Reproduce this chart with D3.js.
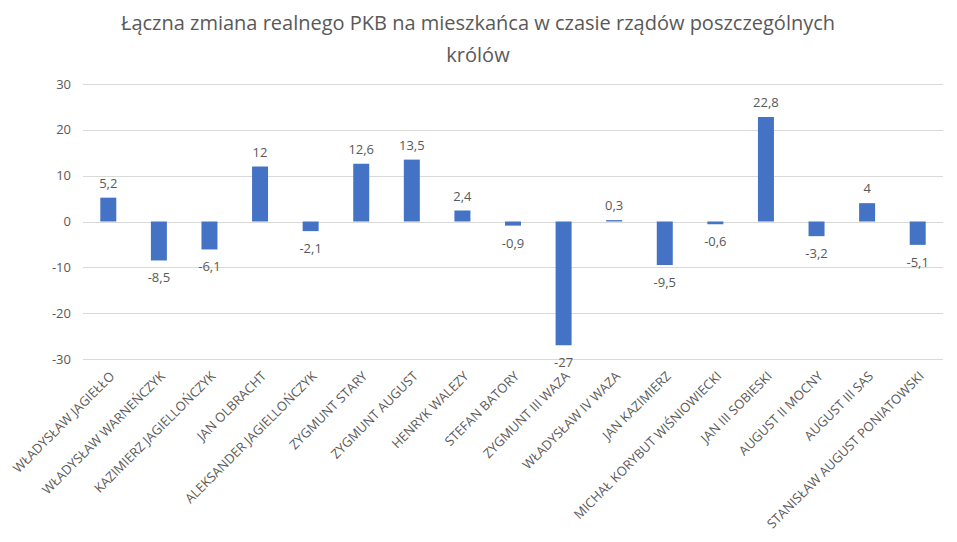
<!DOCTYPE html>
<html>
<head>
<meta charset="utf-8">
<script src="https://cdn.jsdelivr.net/npm/d3@7"></script>
<style>
  body { margin: 0; background: #fff; }
  svg text { font-family: "Segoe UI", "Open Sans", "Noto Sans", sans-serif; fill: #595959; }
</style>
</head>
<body>
<svg id="chart" width="957" height="542"></svg>
<script>
var kings = ["WŁADYSŁAW JAGIEŁŁO", "WŁADYSŁAW WARNEŃCZYK", "KAZIMIERZ JAGIELLOŃCZYK", "JAN OLBRACHT",
    "ALEKSANDER JAGIELLOŃCZYK", "ZYGMUNT STARY", "ZYGMUNT AUGUST", "HENRYK WALEZY", "STEFAN BATORY",
    "ZYGMUNT III WAZA", "WŁADYSŁAW IV WAZA", "JAN KAZIMIERZ", "MICHAŁ KORYBUT WIŚNIOWIECKI",
    "JAN III SOBIESKI", "AUGUST II MOCNY", "AUGUST III SAS", "STANISŁAW AUGUST PONIATOWSKI"];
var values = [5.2, -8.5, -6.1, 12, -2.1, 12.6, 13.5, 2.4, -0.9, -27, 0.3, -9.5, -0.6, 22.8, -3.2, 4, -5.1];
var yTicks = [-30, -20, -10, 0, 10, 20, 30];

var data = kings.map((k, i) => ({name: k, value: values[i]}));

var svg = d3.select("#chart");
var plotLeft = 83, plotRight = 943, plotTop = 84, plotBottom = 359;

var xScale = d3.scaleBand().domain(kings).range([plotLeft, plotRight]).paddingInner(0.684).paddingOuter(0.342);
var yScale = d3.scaleLinear().domain([-30, 30]).range([plotBottom, plotTop]);

// title
var title = svg.append("text")
    .attr("text-anchor", "middle")
    .attr("font-size", 20);
title.append("tspan").attr("x", 478).attr("y", 30).text("Łączna zmiana realnego PKB na mieszkańca w czasie rządów poszczególnych");
title.append("tspan").attr("x", 478).attr("y", 62).text("królów");

// gridlines
svg.append("g").selectAll("line").data(yTicks).enter()
    .append("line")
    .attr("x1", plotLeft).attr("x2", plotRight)
    .attr("y1", d => Math.round(yScale(d)) + 0.5).attr("y2", d => Math.round(yScale(d)) + 0.5)
    .attr("stroke", "#d9d9d9").attr("stroke-width", 1);

// y labels
svg.append("g").selectAll("text").data(yTicks).enter()
    .append("text")
    .attr("x", 71)
    .attr("y", d => yScale(d))
    .attr("dy", "0.35em")
    .attr("text-anchor", "end")
    .attr("font-size", 13)
    .text(d => d);

// bars
svg.append("g").selectAll("rect").data(data).enter()
    .append("rect")
    .attr("x", d => xScale(d.name))
    .attr("width", xScale.bandwidth())
    .attr("y", d => yScale(Math.max(0, d.value)))
    .attr("height", d => Math.abs(yScale(d.value) - yScale(0)))
    .attr("fill", "#4472c4");

// data labels
var fmt = v => String(v).replace(".", ",");
svg.append("g").selectAll("text").data(data).enter()
    .append("text")
    .attr("x", d => xScale(d.name) + xScale.bandwidth() / 2)
    .attr("y", d => d.value >= 0 ? yScale(d.value) - 10 : yScale(d.value) + 22)
    .attr("text-anchor", "middle")
    .attr("font-size", 13)
    .text(d => fmt(d.value));

// category labels
svg.append("g").selectAll("text").data(data).enter()
    .append("text")
    .attr("text-anchor", "end")
    .attr("font-size", 13)
    .attr("transform", d => "translate(" + (xScale(d.name) + xScale.bandwidth() / 2 + 7) + ",377) rotate(-45)")
    .text(d => d.name);
</script>
</body>
</html>
